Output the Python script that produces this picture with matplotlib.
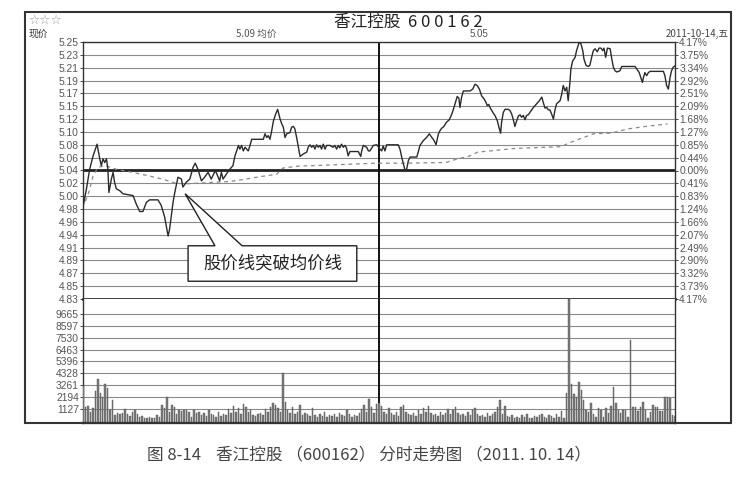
import numpy as np
import matplotlib
matplotlib.use("Agg")
import matplotlib.pyplot as plt
from matplotlib.patches import Polygon, Rectangle

plt.rcParams['font.family'] = ['Noto Sans CJK SC', 'DejaVu Sans']

# ==========================
# Data
# ==========================

prev_close = 5.04

price_left_labels = ["5.25", "5.23", "5.21", "5.19", "5.17", "5.15", "5.12",
                     "5.10", "5.08", "5.06", "5.04", "5.02", "5.00", "4.98",
                     "4.96", "4.94", "4.91", "4.89", "4.87", "4.85", "4.83"]
pct_labels = ["4.17%", "3.75%", "3.34%", "2.92%", "2.51%", "2.09%", "1.68%",
              "1.27%", "0.85%", "0.44%", "0.00%", "0.41%", "0.83%", "1.24%",
              "1.66%", "2.07%", "2.49%", "2.90%", "3.32%", "3.73%", "4.17%"]
vol_labels = [9665, 8597, 7530, 6463, 5396, 4328, 3261, 2194, 1127]

# minute index (0..240) and price of the intraday line
price_min = [0, 1.4, 2.7, 4.1, 5.7, 6.8, 7.4, 8.1, 8.8, 9.5, 10.1, 10.5, 11.5,
             12.2, 12.8, 13.5, 14.9, 16.2, 20.3, 21.6, 23.0, 24.3, 25.7, 27.0,
             30.4, 31.7, 33.1, 34.5, 35.1, 36.5, 37.2, 38.5, 39.9, 40.5, 41.9,
             43.3, 44.6, 45.5, 46.6, 48.0, 49.3, 50.7, 52.0, 53.4, 54.0, 55.4,
             56.1, 56.8, 58.1, 59.5, 60.8, 61.6, 62.3, 63.0, 63.6, 64.3, 65.0,
             65.7, 67.0, 67.7, 68.4, 73.1, 73.8, 74.5, 75.1, 75.8, 76.5, 77.2,
             78.1, 78.9, 79.9, 80.6, 81.2, 81.9, 82.6, 83.9, 84.6, 85.3, 85.9,
             86.6, 87.3, 88.0, 89.3, 90.7, 91.3, 92.0, 92.7, 93.4, 94.0, 94.7,
             95.4, 96.1, 96.7, 97.4, 98.1, 98.8, 100.1, 101.4, 102.1, 102.8,
             103.5, 104.1, 104.8, 105.5, 106.2, 106.8, 107.5, 108.2, 111.6,
             112.6, 113.0, 113.6, 115.0, 115.7, 116.3, 117.7, 119.1,
             120.4, 121.1, 121.7, 122.4, 123.1, 127.8, 128.5, 129.2, 129.9,
             130.5, 131.2, 131.9, 132.6, 135.3, 135.9, 136.6, 138.0, 139.3,
             140.4, 141.4, 142.0, 142.7, 143.1, 143.6, 144.1, 144.7, 145.4,
             146.3, 147.4, 148.5, 149.5, 150.4, 151.2, 151.7, 152.4, 152.8,
             153.5, 154.2, 156.9, 158.0, 158.9, 159.8, 160.7, 161.6, 162.6,
             163.4, 163.9, 164.5, 165.0, 165.7, 166.3, 167.0, 168.0, 168.6,
             169.3, 169.7, 170.4, 171.1, 172.4, 173.1, 173.8, 174.4, 175.1,
             175.8, 176.5, 177.2, 177.8, 178.5, 179.2, 179.8, 180.5, 181.2,
             182.6, 183.9, 185.0, 186.0, 186.6, 187.3, 188.0, 188.7, 189.3,
             190.0, 190.7, 191.4, 192.0, 193.4, 194.1, 194.7, 195.4, 196.1,
             196.7, 197.4, 197.8, 198.5, 199.5, 200.1, 201.1, 201.8, 202.6,
             203.1, 203.9, 204.8, 205.5, 206.2, 206.9, 207.6, 208.5, 209.2,
             210.0, 210.7, 211.2, 211.9, 212.6, 213.7, 214.4, 215.0, 215.7,
             216.4, 217.7, 218.4, 223.8, 224.5, 225.5, 226.2, 226.8, 227.2,
             227.8, 228.5, 229.2, 229.9, 235.3, 235.9, 236.6, 237.3, 238.0,
             238.6, 239.3, 240]
price_val = [4.980, 5.010, 5.042, 5.064, 5.083, 5.059, 5.048, 5.059, 5.053,
             5.059, 5.042, 5.004, 5.026, 5.037, 5.021, 5.010, 5.007, 5.002,
             4.999, 4.985, 4.973, 4.973, 4.988, 4.992, 4.992, 4.983, 4.964,
             4.933, 4.944, 4.988, 5.004, 5.029, 5.026, 5.013, 5.021, 5.026,
             5.045, 5.052, 5.042, 5.023, 5.029, 5.037, 5.026, 5.038, 5.037,
             5.023, 5.037, 5.026, 5.034, 5.042, 5.048, 5.064, 5.072, 5.081,
             5.075, 5.081, 5.072, 5.078, 5.072, 5.081, 5.091, 5.091, 5.100,
             5.094, 5.097, 5.091, 5.105, 5.121, 5.132, 5.140, 5.124, 5.116,
             5.111, 5.094, 5.100, 5.102, 5.111, 5.112, 5.108, 5.094, 5.078,
             5.063, 5.067, 5.070, 5.078, 5.082, 5.078, 5.081, 5.075, 5.082,
             5.078, 5.081, 5.075, 5.083, 5.075, 5.081, 5.081, 5.078, 5.081,
             5.075, 5.081, 5.077, 5.083, 5.078, 5.081, 5.077, 5.064, 5.071,
             5.071, 5.063, 5.072, 5.081, 5.078, 5.072, 5.072, 5.081, 5.082,
             5.075, 5.072, 5.080, 5.072, 5.082, 5.082, 5.075, 5.062, 5.051,
             5.041, 5.042, 5.056, 5.062, 5.062, 5.070, 5.081, 5.089, 5.094,
             5.100, 5.094, 5.091, 5.086, 5.082, 5.091, 5.100, 5.105, 5.109,
             5.112, 5.119, 5.123, 5.132, 5.143, 5.154, 5.161, 5.158, 5.143,
             5.160, 5.170, 5.170, 5.173, 5.181, 5.179, 5.173, 5.162, 5.157,
             5.151, 5.146, 5.148, 5.143, 5.138, 5.134, 5.130, 5.121, 5.111,
             5.101, 5.119, 5.135, 5.140, 5.140, 5.138, 5.132, 5.124, 5.112,
             5.121, 5.129, 5.131, 5.127, 5.130, 5.123, 5.130, 5.131, 5.135,
             5.143, 5.149, 5.154, 5.160, 5.151, 5.142, 5.143, 5.139, 5.139,
             5.132, 5.124, 5.140, 5.149, 5.154, 5.165, 5.179, 5.170, 5.176,
             5.154, 5.184, 5.206, 5.219, 5.225, 5.236, 5.249, 5.248, 5.236,
             5.222, 5.212, 5.210, 5.212, 5.225, 5.236, 5.239, 5.234, 5.240,
             5.240, 5.236, 5.240, 5.225, 5.240, 5.239, 5.222, 5.209, 5.203,
             5.201, 5.203, 5.210, 5.210, 5.206, 5.200, 5.191, 5.184, 5.192,
             5.200, 5.195, 5.200, 5.202, 5.202, 5.195, 5.179, 5.173, 5.192,
             5.203, 5.209, 5.211]

# average price line (dashed)
avg_min = [1, 2.4, 4, 6, 9, 13.5, 20, 27, 33, 37, 41, 50, 59.6, 66, 72,
           78.5, 81, 87, 100, 119, 130, 147, 151, 157, 160, 175, 194, 197,
           201, 207, 214, 221, 228, 237]
avg_val = [4.990, 5.005, 5.030, 5.045, 5.048, 5.042, 5.037, 5.031, 5.025,
           5.020, 5.018, 5.020, 5.022, 5.026, 5.030, 5.034, 5.044, 5.047,
           5.049, 5.052, 5.052, 5.053, 5.058, 5.064, 5.070, 5.076, 5.079,
           5.085, 5.091, 5.100, 5.101, 5.108, 5.112, 5.116]

# volume per minute (0..240)
volume = [
    3200, 1300, 1400, 900, 1200, 2700, 3800, 2600, 2200, 3400,
    3000, 1000, 1900, 600, 750, 700, 800, 1100, 700, 500,
    900, 1070, 700, 400, 500, 300, 350, 450, 300, 300,
    600, 450, 1500, 1200, 2200, 900, 1500, 1300, 700, 1000,
    950, 1050, 1000, 900, 450, 1000, 750, 900, 600, 800,
    500, 1000, 700, 600, 400, 900, 500, 700, 600, 1100,
    800, 1400, 900, 1200, 700, 1600, 1300, 900, 1000, 600,
    500, 700, 800, 600, 1100, 900, 1300, 1700, 1500, 1200,
    900, 4400, 1800, 1000, 800, 1300, 700, 900, 1500, 600,
    800, 700, 500, 1200, 600, 400, 700, 500, 900, 400,
    600, 500, 700, 400, 800, 600, 500, 1000, 700, 400,
    600, 500, 800, 1100, 1500, 900, 2000, 1300, 800, 1600,
    1700, 1400, 900, 700, 1200, 800, 600, 900, 500, 1300,
    1500, 900, 700, 600, 800, 500, 1000, 700, 1200, 900,
    1400, 800, 600, 700, 500, 900, 600, 800, 1100, 700,
    1000, 1300, 800, 600, 700, 500, 900, 600, 1000, 1200,
    700, 500, 600, 400, 800, 500, 700, 900, 1300, 1940,
    700, 1400, 500, 400, 600, 350, 450, 300, 550, 400,
    650, 350, 300, 500, 400, 600, 700, 450, 350, 600,
    500, 300, 700, 400, 970, 300, 2590, 11000, 3350, 2500,
    2180, 3580, 2830, 1960, 1000, 900, 1640, 650, 450, 1190,
    1040, 450, 1190, 750, 1360, 3080, 1640, 1040, 750, 1040,
    1040, 380, 7330, 1330, 1270, 970, 1270, 1780, 1040, 300,
    900, 1500, 1270, 1270, 970, 970, 2180, 2180, 2100, 600,
    500,
]

# ==========================
# Figure
# ==========================

W, H = 744, 479
fig = plt.figure(figsize=(W / 100, H / 100), dpi=100)


def fx(x):
    return x / W


def fy(y):
    return 1 - y / H


L, R, T, MID, B = 83, 675, 42, 299, 423
ax = fig.add_axes([fx(L), fy(MID), fx(R - L), fy(T) - fy(MID)])
axv = fig.add_axes([fx(L), fy(B), fx(R - L), fy(MID) - fy(B)])

tick_levels = [prev_close + 0.021 * (10 - k) for k in range(21)]
grid_c = "#8a8a8a"
txt_c = "#555555"
num_font = ['Liberation Sans', 'DejaVu Sans']

# price panel
for lv in tick_levels:
    ax.axhline(lv, color=grid_c, lw=0.8, zorder=1)
ax.axhline(prev_close, color="#222222", lw=2.0, zorder=2)
ax.axvline(120, color="#111111", lw=1.4, zorder=2)
ax.plot(avg_min, avg_val, color="#888888", lw=0.9, ls=(0, (3, 3)), zorder=3)
ax.plot(price_min, price_val, color="#2a2a2a", lw=1.0, zorder=4)
ax.set_xlim(0, 240)
ax.set_ylim(4.83, 5.25)
ax.set_xticks([])
ax.set_yticks(tick_levels)
ax.set_yticklabels(price_left_labels, fontsize=7.4, color=txt_c,
                   family=num_font)
ax.tick_params(axis="y", length=2, width=0.7, pad=1, color="#444444")
for s in ax.spines.values():
    s.set_color("#333333")
    s.set_linewidth(1.0)
ax.spines["bottom"].set_linewidth(2.0)

axr = ax.twinx()
axr.set_ylim(4.83, 5.25)
axr.set_yticks(tick_levels)
axr.set_yticklabels(pct_labels, fontsize=7.4, color=txt_c, family=num_font)
axr.tick_params(axis="y", length=2, width=0.7, pad=1, color="#444444")
for s in axr.spines.values():
    s.set_visible(False)

# callout
callout = Polygon([(42.6, 4.917), (53.5, 4.917), (41.4, 5.002), (64.5, 4.917),
                   (111.0, 4.917), (111.0, 4.859), (42.6, 4.859)],
                  closed=True, facecolor="white", edgecolor="#222222",
                  lw=1.0, zorder=6)
ax.add_patch(callout)
ax.text(76.8, 4.888, "股价线突破均价线", fontsize=12.5, ha="center",
        va="center", color="#222222", zorder=7)

# volume panel
for v in vol_labels:
    axv.axhline(v, color=grid_c, lw=0.8, zorder=1)
axv.axvline(120, color="#111111", lw=1.4, zorder=2)
axv.bar(np.arange(len(volume)), volume, width=0.6, color="#7a7a7a",
        edgecolor="#555555", linewidth=0.3, zorder=3)
axv.set_xlim(0, 240)
axv.set_ylim(-130, 11010)
axv.set_xticks([])
axv.set_yticks(vol_labels)
axv.set_yticklabels([str(v) for v in vol_labels], fontsize=7.4,
                    color=txt_c, family=num_font)
axv.tick_params(axis="y", length=2, width=0.7, pad=1, color="#444444")
for s in axv.spines.values():
    s.set_color("#333333")
    s.set_linewidth(1.0)
axv.spines["top"].set_visible(False)
axv.spines["bottom"].set_linewidth(1.6)

# outer frame
fig.patches.append(Rectangle((fx(25), fy(423)), fx(731 - 25), fy(12) - fy(423),
                             transform=fig.transFigure, fill=False,
                             edgecolor="#333333", lw=1.5))

# header texts
fig.text(fx(28), fy(20), "☆☆☆", fontsize=9, color="#9a9a9a",
         va="center", family=['DejaVu Sans'])
fig.text(fx(408), fy(22), "香江控股  6 0 0 1 6 2", fontsize=12, ha="center",
         va="center", color="#222222")
fig.text(fx(29), fy(34), "现价", fontsize=7, va="center", color="#333333")
fig.text(fx(236), fy(34), "5.09 均价", fontsize=7, va="center", color="#555555")
fig.text(fx(470), fy(34), "5.05", fontsize=7, va="center", color="#555555",
         family=num_font)
fig.text(fx(729), fy(34), "2011-10-14,五", fontsize=7, ha="right",
         va="center", color="#444444")

# caption
fig.text(fx(369), fy(455),
         "图 8-14    香江控股 （600162） 分时走势图 （2011. 10. 14）",
         fontsize=12, ha="center", va="center", color="#444444")

fig.savefig("out.png", dpi=100)
